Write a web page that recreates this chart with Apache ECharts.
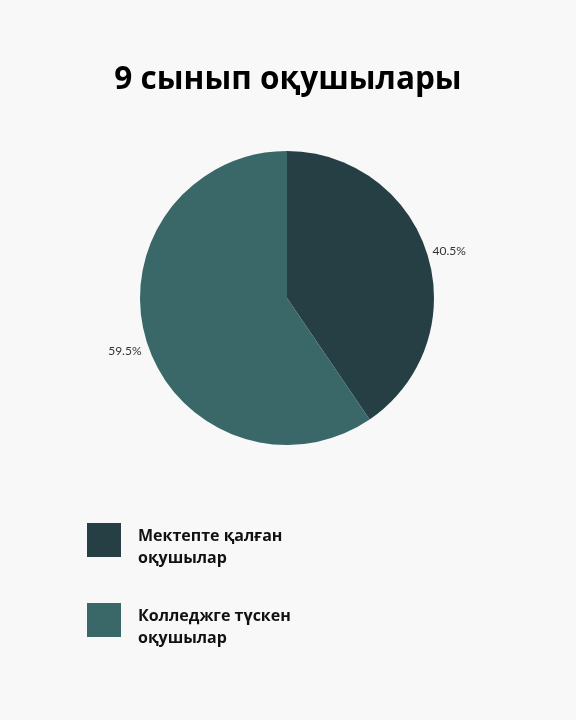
<!DOCTYPE html>
<html>
<head>
<meta charset="utf-8">
<script src="https://cdn.jsdelivr.net/npm/echarts@6/dist/echarts.min.js"></script>
<style>
  html, body { margin: 0; padding: 0; background: #f8f8f8; }
  #main { width: 576px; height: 720px; }
</style>
</head>
<body>
<div id="main"></div>
<script>
var titleText = '9 сынып оқушылары';
var categories = ['Мектепте қалған\nоқушылар', 'Колледжге түскен\nоқушылар'];
var values = [40.5, 59.5];
var colors = ['#263f44', '#3a6868'];

var myChart = echarts.init(document.getElementById('main'));

var option = {
  backgroundColor: '#f8f8f8',
  title: {
    text: titleText,
    left: 'center',
    top: 59,
    textStyle: {
      fontFamily: 'Open Sans',
      fontWeight: 'bold',
      fontSize: 31.5,
      color: '#000'
    }
  },
  legend: {
    orient: 'vertical',
    left: 82,
    top: 508,
    itemWidth: 34,
    itemHeight: 34,
    itemGap: 27,
    icon: 'rect',
    data: categories,
    formatter: function (name) {
      // blank spacer line pushes the two text lines a bit below the square's centre
      return '{s| }\n' + name.split('\n').map(function (l) {
        return '{t|' + l + '}';
      }).join('\n');
    },
    textStyle: {
      padding: [0, 0, 0, 12],
      rich: {
        s: { fontSize: 10, lineHeight: 14 },
        t: {
          fontFamily: 'Open Sans',
          fontWeight: 'bold',
          fontSize: 16,
          lineHeight: 22,
          color: '#111'
        }
      }
    }
  },
  series: [
    {
      type: 'pie',
      center: [287, 298],
      radius: 147,
      startAngle: 90,
      clockwise: true,
      color: colors,
      data: categories.map(function (c, i) {
        return { name: c, value: values[i] };
      }),
      label: {
        show: true,
        position: 'outside',
        formatter: function (p) { return p.value + '%'; },
        fontFamily: 'Lato',
        fontSize: 12,
        color: '#333',
        distanceToLabelLine: -17
      },
      labelLine: { show: false, length: 23, length2: 0 },
      labelLayout: { dy: 3 },
      emphasis: { disabled: true }
    }
  ]
};

myChart.setOption(option);
</script>
</body>
</html>
